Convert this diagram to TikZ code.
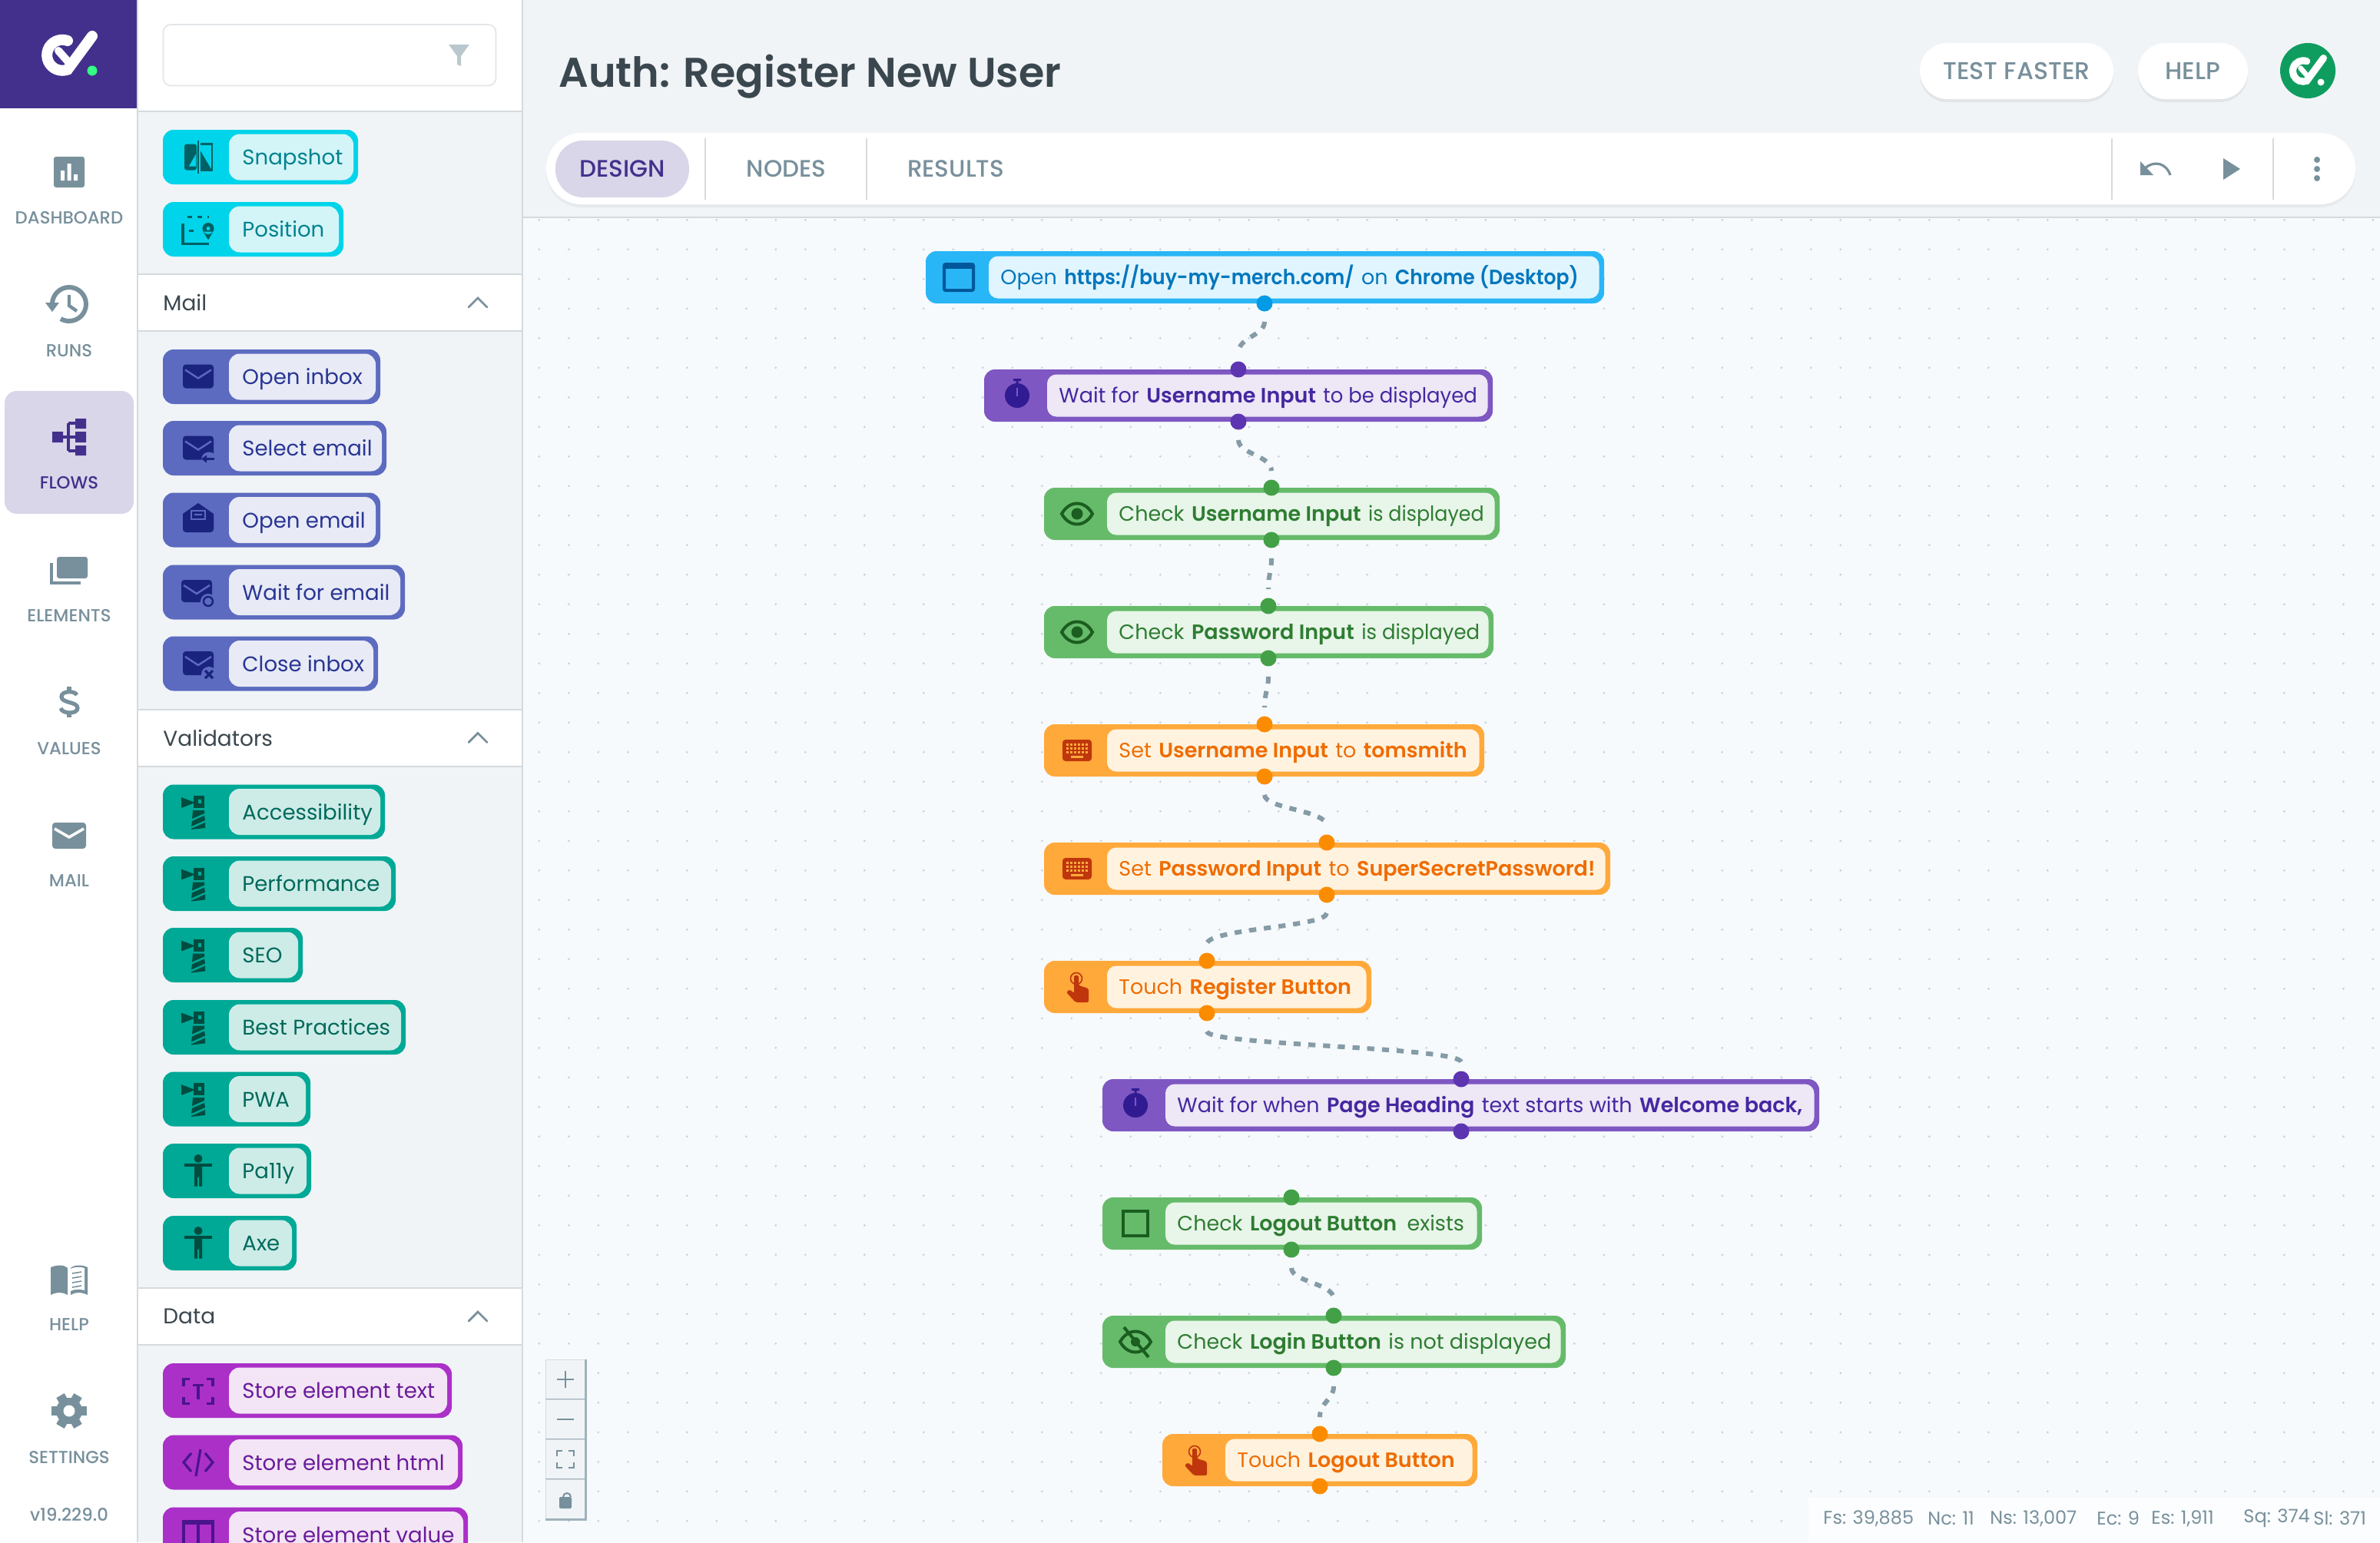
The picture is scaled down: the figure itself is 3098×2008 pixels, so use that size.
\documentclass[tikz,border=0pt]{standalone}
\usepackage{fontspec}
\setmainfont{Poppins}[BoldFont={Poppins SemiBold}]
\newfontfamily\medfont{Poppins Medium}
\usetikzlibrary{shadows}

\definecolor{shellbg}{HTML}{F0F4F7}
\definecolor{canvasbg}{HTML}{F6FAFD}
\definecolor{griddot}{HTML}{CBD4DA}
\definecolor{rulegray}{HTML}{D5DADE}
\definecolor{railgray}{HTML}{78909C}
\definecolor{logoviolet}{HTML}{43308C}
\definecolor{flowsbox}{HTML}{D9D6E9}
\definecolor{inkdark}{HTML}{3B474E}
\definecolor{badgegreen}{HTML}{0F9D5F}
% flow node colours
\definecolor{openedge}{HTML}{29B6F6}\definecolor{openfill}{HTML}{E1F5FE}\definecolor{opentext}{HTML}{0277BD}\definecolor{opendark}{HTML}{01579B}\definecolor{openhandle}{HTML}{039BE5}
\definecolor{waitedge}{HTML}{7E57C2}\definecolor{waitfill}{HTML}{EDE7F6}\definecolor{waittext}{HTML}{4527A0}\definecolor{waitdark}{HTML}{311B92}\definecolor{waithandle}{HTML}{5E35B1}
\definecolor{checkedge}{HTML}{66BB6A}\definecolor{checkfill}{HTML}{E8F5E9}\definecolor{checktext}{HTML}{2E7D32}\definecolor{checkdark}{HTML}{1B5E20}\definecolor{checkhandle}{HTML}{43A047}
\definecolor{actedge}{HTML}{FFA93B}\definecolor{actfill}{HTML}{FFF3E0}\definecolor{acttext}{HTML}{EF6C00}\definecolor{actdark}{HTML}{BF360C}\definecolor{acthandle}{HTML}{FB8C00}
% palette chip colours
\definecolor{cyanedge}{HTML}{00D4EA}\definecolor{cyanfill}{HTML}{D4F5F8}\definecolor{cyantext}{HTML}{00838F}\definecolor{cyandark}{HTML}{006064}
\definecolor{mailedge}{HTML}{5C6BC0}\definecolor{mailfill}{HTML}{E8EAF6}\definecolor{mailtext}{HTML}{283593}\definecolor{maildark}{HTML}{1A237E}
\definecolor{tealedge}{HTML}{00A896}\definecolor{tealfill}{HTML}{CDECE7}\definecolor{tealtext}{HTML}{00695C}\definecolor{tealdark}{HTML}{004D40}
\definecolor{dataedge}{HTML}{AB30C8}\definecolor{datafill}{HTML}{F3E5F5}\definecolor{datatext}{HTML}{6A1B9A}\definecolor{datadark}{HTML}{4A148C}

\tikzset{
  railtext/.style={text=railgray,font=\medfont\fontsize{11.4}{13}\selectfont,inner sep=0pt},
  chiptext/.style={anchor=west,inner sep=0pt,font=\fontsize{13.8}{18}\selectfont,text height=12.4pt,text depth=2.4pt},
  flowtext/.style={anchor=west,inner sep=0pt,font=\fontsize{13.5}{18}\selectfont,text height=12.2pt,text depth=2.4pt},
  headtext/.style={anchor=west,inner sep=0pt,text=inkdark,font=\fontsize{14}{18}\selectfont},
  tabtext/.style={text=railgray,inner sep=0pt,font=\medfont\fontsize{15.5}{18}\selectfont},
  pillbtn/.style={fill=white,rounded corners=18pt,minimum height=36.5pt,text=railgray,inner sep=0pt,
    font=\medfont\fontsize{15.8}{18}\selectfont,drop shadow={opacity=.12,shadow xshift=0pt,shadow yshift=-2pt}},
  handle/.style={circle,inner sep=0pt,minimum size=10.5pt},
  flowedge/.style={draw=railgray!90,line width=3pt,dash pattern=on 4.6pt off 5pt,shorten >=5.5pt,shorten <=6.5pt},
  zoombtn/.style={draw=rulegray,fill=shellbg,minimum size=26pt,inner sep=0pt},
  iconcut/.code={\colorlet{cutcol}{#1}},
  % rail icons
  dashicon/.pic={
    \fill[rounded corners=1.5pt] (-20,-20) rectangle (20,20);
    \fill[white] (-11,-2) rectangle (-6,11) (-2.5,-11) rectangle (2.5,11) (6,3) rectangle (11,11);},
  runsicon/.pic={
    \draw[line width=3pt] (-22,0) arc[start angle=180,end angle=480,radius=22];
    \fill (-31,-2) -- (-13,-2) -- (-22,10) -- cycle;
    \draw[line width=2.2pt] (0,-12) -- (0,2) -- (10,9);},
  flowsicon/.pic={
    \fill (-22,-7) rectangle (-8,7) (8,-24) rectangle (22,-11) (8,-7) rectangle (22,7) (8,11) rectangle (22,24);
    \draw[line width=2pt] (-8,0) -- (8,0) (-1,-18) -- (8,-18) (-1,18) -- (8,18) (-1,-18) -- (-1,18);},
  elemicon/.pic={
    \fill[rounded corners=1.5pt] (-16,-17) rectangle (24,11);
    \draw[line width=2.4pt] (-23,-9) -- (-23,17) -- (15,17);},
  valueicon/.pic={
    \draw[line width=2.6pt] (10,-9) .. controls (8,-15) and (-10,-15) .. (-10,-7) .. controls (-10,2) and (11,-1) .. (11,8) .. controls (11,16) and (-9,16) .. (-11,8);
    \draw[line width=2.6pt] (0,-20) -- (0,-13) (0,14) -- (0,20);},
  mailrail/.pic={
    \fill[rounded corners=2pt] (-22,-17) rectangle (22,17);
    \draw[white,line width=1.8pt] (-19,-9) -- (0,2) -- (19,-9);},
  bookicon/.pic={
    \fill (-24,-17) .. controls (-14,-21) and (-6,-20) .. (-2,-16) -- (-2,19) .. controls (-8,15) and (-16,15) .. (-24,19) -- cycle;
    \fill (2,-16) .. controls (6,-20) and (16,-21) .. (24,-17) -- (24,19) .. controls (16,15) and (8,15) .. (2,19) -- cycle;
    \fill[white] (0,-14) .. controls (6,-18) and (14,-18) .. (20,-16) -- (20,13) .. controls (14,11) and (6,11) .. (0,15) -- cycle;
    \draw[railgray,line width=.8pt] (4,-9) -- (16,-11) (4,-3) -- (16,-5) (4,3) -- (16,1) (4,9) -- (16,7);},
  gearicon/.pic={
    \foreach \a in {30,90,...,330} \fill[rotate=\a] (-6,-23) rectangle (6,0);
    \fill circle[radius=17];
    \fill[white] circle[radius=7.5];},
  % logo
  logomark/.pic={
    \draw[white,line width=#1,line cap=round] (-2,-18) arc[start angle=-70,end angle=-290,radius=20] -- (30,-24);
    \draw[white,line width=.72*#1,line cap=round] (-14,-5) -- (1,12);},
  % flow icons
  screenicon/.pic={
    \draw[line width=2pt,rounded corners=1pt] (-19,-17) rectangle (19,17);
    \fill (-19,-17) rectangle (19,-11);},
  clockicon/.pic={
    \fill circle[radius=16];
    \fill (-5,-22) rectangle (5,-19) (-1.5,-20) rectangle (1.5,-14);
    \draw[cutcol,line width=1pt] (0,-10) -- (0,1);},
  eyeicon/.pic={
    \draw[line width=2pt] (-20,0) .. controls (-10,-18) and (10,-18) .. (20,0) .. controls (10,18) and (-10,18) .. (-20,0) -- cycle;
    \fill circle[radius=7.5];},
  eyeofficon/.pic={
    \draw[line width=2pt] (-20,0) .. controls (-10,-18) and (10,-18) .. (20,0) .. controls (10,18) and (-10,18) .. (-20,0) -- cycle;
    \fill circle[radius=6];
    \draw[line width=2pt] (-15,-19) -- (17,20);},
  keysicon/.pic={
    \fill[rounded corners=2pt] (-19,-14) rectangle (19,14);
    \foreach \kx in {-13,-8,...,12} \foreach \ky in {-8,-3,2} \fill[cutcol] (\kx-1.5,\ky-1.5) rectangle (\kx+1.5,\ky+1.5);
    \fill[cutcol] (-8,6.5) rectangle (8,9.5);},
  handicon/.pic={
    \draw[line width=.8pt] (-1,-11) circle[radius=7.5];
    \fill[rounded corners=1pt] (-4,-15) -- (2,-15) -- (2,-2) -- (15,2) -- (15,20) -- (-2,20) -- (-14,7) -- (-10,3) -- (-4,8) -- cycle;},
  boxicon/.pic={\draw[line width=2pt] (-16,-16) rectangle (16,16);},
  % chip icons
  snapicon/.pic={
    \fill[rounded corners=1.5pt] (-18,-17) rectangle (-2,17);
    \fill[cutcol] (-3,-4) -- (-3,12) -- (-12,12) -- cycle;
    \draw[line width=1.4pt] (0,-22) -- (0,21);
    \draw[line width=1.4pt] (3,-17) -- (18,-17) -- (18,17) -- (3,17);
    \fill (3,-8) -- (3,16) -- (17,16) -- cycle;},
  posicon/.pic={
    \draw[line width=1.6pt,dash pattern=on 3pt off 3.5pt] (-14,-16) -- (14,-16) (-12,2) -- (-2,2);
    \draw[line width=1.6pt] (-20,-8) -- (-20,19) -- (14,19);
    \fill (13,-1) circle[radius=7.5] (6.5,3) -- (13,14) -- (19.5,3) -- cycle;
    \fill[cutcol] (13,-1) circle[radius=2.5];},
  mailicon/.pic={
    \fill[rounded corners=2pt] (-20,-16) rectangle (20,15);
    \draw[cutcol,line width=1.2pt] (-17,-9) -- (0,2) -- (17,-9);},
  mailback/.pic={
    \fill[rounded corners=2pt] (-20,-16) rectangle (20,15);
    \draw[cutcol,line width=1.2pt] (-17,-9) -- (0,2) -- (17,-9);
    \fill[cutcol] (14,15) circle[radius=10];
    \draw[line width=1.4pt] (8,14) -- (21,14);
    \fill (4,14) -- (11,9) -- (11,19) -- cycle;},
  mailopen/.pic={
    \fill (-20,-8) -- (0,-22) -- (20,-8) -- (20,12) -- (-20,12) -- cycle;
    \fill[rounded corners=2pt] (-20,-6) rectangle (20,16);
    \draw[cutcol,line width=1.1pt] (-9,-12) rectangle (9,-1) (-5,-7) -- (5,-7);},
  mailsync/.pic={
    \fill[rounded corners=2pt] (-22,-16) rectangle (18,13);
    \draw[cutcol,line width=1.2pt] (-19,-9) -- (-2,2) -- (15,-9);
    \fill[cutcol] (13,12) circle[radius=10];
    \draw[line width=1.2pt] (13,12) circle[radius=6];},
  mailclose/.pic={
    \fill[rounded corners=2pt] (-20,-16) rectangle (20,15);
    \draw[cutcol,line width=1.2pt] (-17,-9) -- (0,2) -- (17,-9);
    \fill[cutcol] (14,14) circle[radius=10];
    \draw[line width=1.6pt] (9,9) -- (19,19) (19,9) -- (9,19);},
  lighticon/.pic={
    \fill (-22,-19) -- (-4,-12) -- (-22,-5) -- cycle;
    \fill (-6,-21) rectangle (8,-5);
    \fill[cutcol] (0,-16) rectangle (4,-11);
    \fill (-7,-2) -- (8,-2) -- (8,2) -- (-8,9) -- cycle;
    \fill (-8,12) -- (8,5) -- (9,11) -- (-9,19) -- cycle;
    \fill (-9,22) -- (9,14) -- (9,21) -- (-9,23) -- cycle;},
  personicon/.pic={
    \fill (0,-16) circle[radius=5.5];
    \fill (-18,-10) rectangle (18,-6);
    \fill (-5,-8) rectangle (5,8) (-5,8) rectangle (-1,20) (1,8) rectangle (5,20);},
  scanicon/.pic={
    \draw[line width=1.6pt] (-11,-15) -- (-19,-15) -- (-19,-6) (11,-15) -- (19,-15) -- (19,-6) (-11,17) -- (-19,17) -- (-19,8) (11,17) -- (19,17) -- (19,8);
    \draw[line width=1.6pt] (-7,-7) -- (7,-7) (0,-7) -- (0,11);},
  codeicon/.pic={
    \draw[line width=1.6pt] (-9,-12) -- (-19,0) -- (-9,12) (9,-12) -- (19,0) -- (9,12) (3,-17) -- (-3,18);},
  tableicon/.pic={
    \draw[line width=1.6pt] (-19,-17) rectangle (19,17) (0,-17) -- (0,17);
    \fill (-19,-17) rectangle (19,-13);},
  zoomplus/.pic={\draw[line width=1pt] (-11,0) -- (11,0) (0,-11) -- (0,11);},
  zoomminus/.pic={\draw[line width=1pt] (-11,0) -- (11,0);},
  zoomfit/.pic={\draw[line width=1pt] (-11,-4) -- (-11,-11) -- (-4,-11) (4,-11) -- (11,-11) -- (11,-4) (11,4) -- (11,11) -- (4,11) (-4,11) -- (-11,11) -- (-11,4);},
  zoomlock/.pic={\draw[line width=1pt] (-3,-3) arc[start angle=180,end angle=360,radius=5];
    \fill[rounded corners=1pt] (-8,-3) rectangle (8,12);},
}

% name, left, right, top, kind, handle x, icon, text
\newcommand{\flowstep}[8]{
  \fill[#5edge,rounded corners=7pt] (#2,#4) rectangle (#3,#4+68);
  \fill[#5fill,rounded corners=6pt] (#2+82,#4+6.5) rectangle (#3-6.5,#4+61.5);
  \node[flowtext,text=#5text] (#1) at (#2+97,#4+34) {#8};
  \pic[color=#5dark,iconcut=#5edge] at (#2+43,#4+34) {#7};
  \node[handle,fill=#5handle] (#1-out) at (#6,#4+68) {};
}
% kind, name, y, right, icon, text
\newcommand{\sidechip}[6]{
  \fill[#1edge,rounded corners=7pt] (212,#3-35.5) rectangle (#4,#3+35.5);
  \fill[#1fill,rounded corners=7pt] (298,#3-30) rectangle (#4-6,#3+30);
  \node[chiptext,text=#1text] (#2) at (315,#3) {#6};
  \pic[color=#1dark,iconcut=#1edge] at (258,#3) {#5};
}
\newcommand{\sect}[3]{
  \fill[white] (180,#2) rectangle (679,#2+74);
  \draw[rulegray,line width=1pt] (180,#2) -- (679,#2) (180,#2+74) -- (679,#2+74);
  \node[headtext] (#1) at (212,#2+37) {#3};
  \draw[railgray,line width=1.4pt,line cap=round] (610,#2+43) -- (622,#2+31) -- (634,#2+43);
}
\newcommand{\hl}[1]{\hspace{.35em}\textbf{#1}\hspace{.35em}}
\newcommand{\narrowed}[2]{\scalebox{#1}[1]{#2}}

\begin{document}
\begin{tikzpicture}[x=.5pt,y=-.5pt]
  \useasboundingbox (0,0) rectangle (3098,2008);
  \clip (0,0) rectangle (3098,2008);
  \fill[shellbg] (0,0) rectangle (3098,2008);
  \fill[canvasbg] (680,283) rectangle (3098,2008);
  \draw[rulegray,line width=1pt] (680,283) -- (3098,283);
  % dotted grid of the canvas
  \foreach \gx in {0,...,62} \foreach \gy in {0,...,44}
    \fill[griddot] (701.8+38.5*\gx,286.3+38.5*\gy) circle[radius=1.6];

  % left rail
  \fill[white] (0,0) rectangle (178,2008);
  \fill[logoviolet] (0,0) rectangle (178,141);
  \pic at (90,71) {logomark=7pt};
  \fill[green!60!cyan!80!white] (120,92) circle[radius=6.5];
  \fill[flowsbox,rounded corners=8pt] (6,509) rectangle (174,669);
  \foreach \n/\iy/\ty/\t in {dashicon/224/284/DASHBOARD,runsicon/396/457/RUNS,elemicon/742/802/ELEMENTS,valueicon/914/975/VALUES,mailrail/1088/1147/MAIL,bookicon/1667/1725/HELP,gearicon/1837/1898/SETTINGS} {
    \pic[color=railgray] at (90,\iy) {\n};
    \node[railtext] (rail\t) at (90,\ty) {\t};
  }
  \pic[color=logoviolet] at (90,569) {flowsicon};
  \node[railtext,text=logoviolet] (railFLOWS) at (90,628.5) {FLOWS};
  \node[railtext] (version) at (90,1972) {v19.229.0};

  % palette
  \fill[white] (180,0) rectangle (679,145);
  \draw[rulegray,line width=1pt] (179,0) -- (179,2008) (680,0) -- (680,2008) (180,145) -- (679,145);
  \draw[rulegray!70,fill=white,line width=.8pt,rounded corners=5pt] (212.5,32) rectangle (645.5,111.5);
  \fill[railgray!50] (584,58) -- (611,58) -- (600,73) -- (600,86) -- (595,84) -- (595,73) -- cycle;

  \sidechip{cyan}{snapshot}{204.5}{466}{snapicon}{Snapshot}
  \sidechip{cyan}{position}{298.5}{447}{posicon}{Position}
  \sect{mailhead}{357}{Mail}
  \sidechip{mail}{openinbox}{490.5}{495}{mailicon}{Open inbox}
  \sidechip{mail}{selectemail}{583.5}{503}{mailback}{Select email}
  \sidechip{mail}{openemail}{677}{495}{mailopen}{Open email}
  \sidechip{mail}{waitemail}{771}{527}{mailsync}{Wait for email}
  \sidechip{mail}{closeinbox}{864}{492}{mailclose}{Close inbox}
  \sect{validhead}{923.5}{Validators}
  \foreach \n/\y/\r/\t in {access/1057/501/Accessibility,perf/1150.5/515/Performance,seo/1243.5/394/SEO,best/1337.5/528/Best Practices,pwa/1431/404/PWA}
    \sidechip{teal}{\n}{\y}{\r}{lighticon}{\t};
  \sidechip{teal}{pally}{1524.5}{405}{personicon}{Pa11y}
  \sidechip{teal}{axe}{1618.5}{386}{personicon}{Axe}
  \sect{datahead}{1677}{Data}
  \sidechip{data}{storetext}{1810.5}{588}{scanicon}{Store element text}
  \sidechip{data}{storehtml}{1904}{602}{codeicon}{Store element html}
  \sidechip{data}{storevalue}{1998}{609}{tableicon}{Store element value}

  % header and toolbar
  \node[anchor=west,inner sep=0pt,text=inkdark,font=\fontsize{27}{30}\selectfont\bfseries] (title) at (727,100) {Auth: Register New User};
  \node[pillbtn,minimum width=126pt] (testfaster) at (2625,92.5) {TEST FASTER};
  \node[pillbtn,minimum width=71.5pt] (helpbtn) at (2854.5,92.5) {HELP};
  \node[circle,fill=badgegreen,minimum size=36pt,inner sep=0pt] (badge) at (3004,92) {};
  \pic[scale=.68] at (3004,92) {logomark=4.6pt};
  \fill[white] (3021,107) circle[radius=4.5];
  \fill[white,rounded corners=23pt,drop shadow={opacity=.08,shadow xshift=0pt,shadow yshift=-2pt}] (711,173) rectangle (3066,266);
  \fill[flowsbox,rounded corners=18pt] (723,183) rectangle (897,257);
  \node[tabtext,text=logoviolet] (tabdesign) at (810,220) {DESIGN};
  \node[tabtext] (tabnodes) at (1023.5,220) {NODES};
  \node[tabtext] (tabresults) at (1244,220) {RESULTS};
  \foreach \sx in {918,1128,2749,2959} \draw[rulegray,line width=.8pt] (\sx,180) -- (\sx,260);
  \fill[railgray] (2786,210) -- (2786,228) -- (2803,228) -- cycle;
  \draw[railgray,line width=1.6pt] (2792,219) .. controls (2805,208) and (2820,213) .. (2825,228);
  \fill[railgray] (2894,206) -- (2916,220) -- (2894,234) -- cycle;
  \fill[railgray] (3016,208) circle[radius=4] (3016,220) circle[radius=4] (3016,232) circle[radius=4];

  % flow
  \flowstep{open}{1205}{2088}{327}{open}{1646}{screenicon}{Open\hl{\narrowed{.93}{https://buy-my-merch.com/}}on\hl{\narrowed{.93}{Chrome (Desktop)}}}
  \flowstep{waituser}{1281}{1943}{481}{wait}{1612}{clockicon}{Wait for\hl{Username Input}\narrowed{.96}{to be displayed}}
  \flowstep{checkuser}{1359}{1952}{635}{check}{1655}{eyeicon}{Check\hl{Username Input}\narrowed{.94}{is displayed}}
  \flowstep{checkpass}{1359}{1944}{789}{check}{1651}{eyeicon}{Check\hl{Password Input}\narrowed{.96}{is displayed}}
  \flowstep{setuser}{1359}{1932}{943}{act}{1646}{keysicon}{Set\hl{Username Input}to\hl{tomsmith}}
  \flowstep{setpass}{1359}{2096}{1097}{act}{1727}{keysicon}{Set\hl{Password Input}to\hl{SuperSecretPassword!}}
  \flowstep{touchreg}{1359}{1785}{1251}{act}{1571}{handicon}{Touch\hl{Register Button}}
  \flowstep{waithead}{1435}{2368}{1405}{wait}{1902}{clockicon}{Wait for when\hl{Page Heading}text starts with\hl{Welcome back,}}
  \flowstep{checklogout}{1435}{1929}{1559}{check}{1681}{boxicon}{Check\hl{Logout Button}\hspace{.15em}exists}
  \flowstep{checklogin}{1435}{2038}{1713}{check}{1736}{eyeofficon}{Check\hl{Login Button}is not displayed}
  \flowstep{touchlogout}{1513}{1923}{1867}{act}{1718}{handicon}{Touch\hl{Logout Button}}
  \foreach \n/\k/\x/\y in {waituser/wait/1612/481,checkuser/check/1655/635,checkpass/check/1651/789,setuser/act/1646/943,setpass/act/1727/1097,touchreg/act/1571/1251,waithead/wait/1902/1405,checklogout/check/1681/1559,checklogin/check/1736/1713,touchlogout/act/1718/1867}
    \node[handle,fill=\k handle] (\n-in) at (\x,\y) {};
  \foreach \a/\b in {open/waituser,waituser/checkuser,checkuser/checkpass,checkpass/setuser,setuser/setpass,setpass/touchreg,touchreg/waithead,checklogout/checklogin,checklogin/touchlogout}
    \draw[flowedge] (\a-out) .. controls +(0,42) and +(0,-42) .. (\b-in);

  % zoom buttons
  \foreach \n/\y/\ic in {zoomin/1796/zoomplus,zoomout/1848/zoomminus,zoomreset/1900/zoomfit,zoomhold/1952/zoomlock} {
    \node[zoombtn] (\n) at (736,\y) {};
    \draw[railgray!70,line width=1.6pt] (\n.north east) -- (\n.south east) -- (\n.south west);
    \pic[color=railgray] at (736,\y) {\ic};
  }

  % counters
  \fill[canvasbg!40!white] (2354,1950) rectangle (3098,2008);
  \foreach \n/\x/\t in {statfs/2373/{Fs: 39,885},statnc/2509/{Nc: 11},statns/2590/{Ns: 13,007},statec/2729/{Ec: 9},states/2800/{Es: 1,911},statsq/2920/{Sq: 374},statsl/3011/{Sl: 371}}
    \node[anchor=west,inner sep=0pt,text=railgray,font=\fontsize{12}{14}\selectfont] (\n) at (\x,1977) {\t};
\end{tikzpicture}
\end{document}
